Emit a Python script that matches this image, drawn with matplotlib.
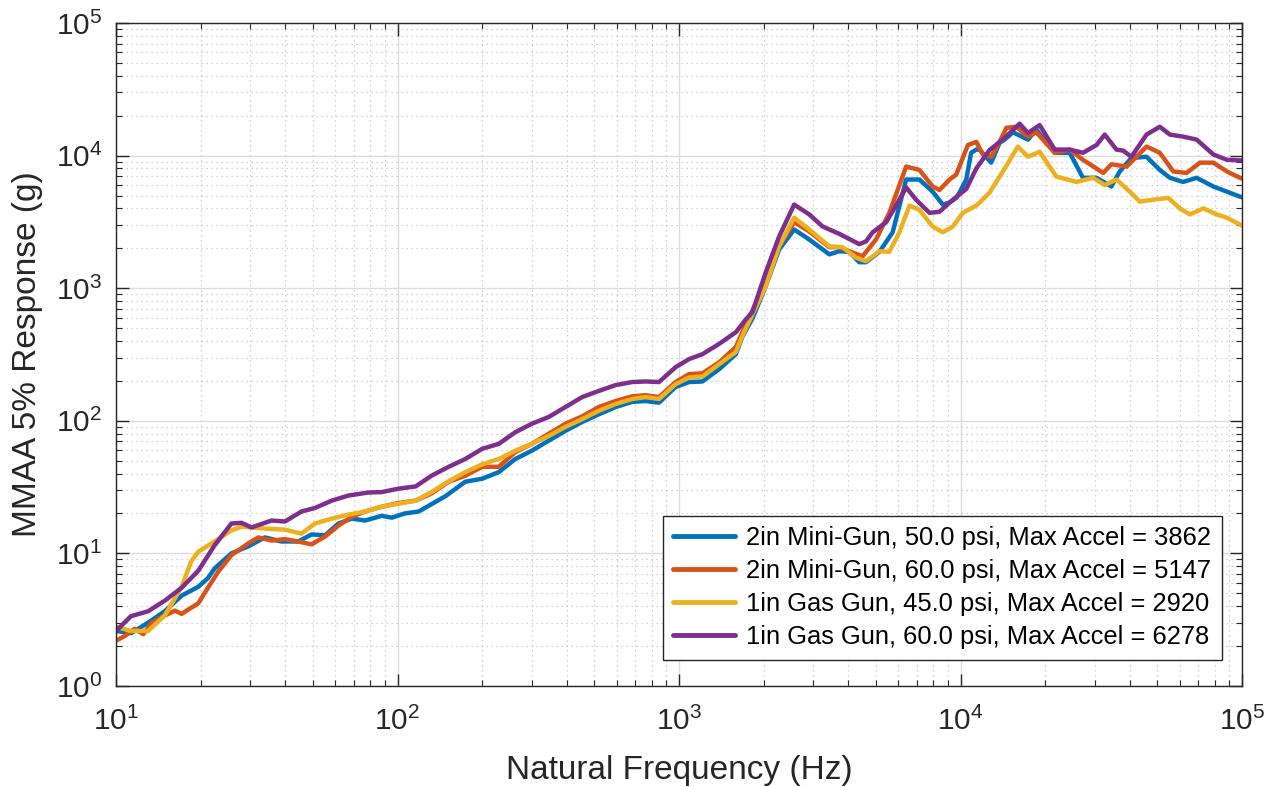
import matplotlib
matplotlib.use("Agg")
import matplotlib.pyplot as plt
from matplotlib.ticker import LogLocator, NullFormatter

plt.rcParams['font.family'] = ['Liberation Sans', 'DejaVu Sans']
plt.rcParams['mathtext.fontset'] = 'custom'
plt.rcParams['mathtext.rm'] = 'Liberation Sans'
plt.rcParams['mathtext.it'] = 'Liberation Sans:italic'
plt.rcParams['mathtext.bf'] = 'Liberation Sans:bold'

# ---------------- data ----------------
labels = [
    "2in Mini-Gun, 50.0 psi, Max Accel = 3862",
    "2in Mini-Gun, 60.0 psi, Max Accel = 5147",
    "1in Gas Gun, 45.0 psi, Max Accel = 2920",
    "1in Gas Gun, 60.0 psi, Max Accel = 6278",
]
colors = ["#0072BD", "#D95319", "#EDB120", "#7E2F8E"]

f_blue = [10, 11.3, 13.0, 14.9, 17.1, 19.6, 21.2, 22.4, 25.7, 29.5, 33.8, 38.7, 44.4,
          49.5, 55.3, 61.7, 68.8, 76.7, 87.9, 95.5, 106, 119, 132, 148, 174, 200, 229,
          262, 300, 345, 395, 453, 519, 596, 682, 761, 849, 973, 1086, 1211, 1388, 1592,
          1679, 1830, 2033, 2268, 2565, 2902, 3420, 3710, 4025, 4368, 4613, 5152, 5741,
          6412, 7145, 7962, 8650, 9140, 9660, 9910, 10480, 10910, 11380, 11690, 12850,
          13770, 14350, 15350, 17370, 18590, 21620, 24430, 27230, 30400, 34350, 36800,
          40470, 45800, 51050, 55460, 61800, 69020, 79070, 88310, 98400, 100000]
v_blue = [2.6, 2.5, 3.0, 3.66, 4.8, 5.6, 6.5, 7.7, 10, 11.3, 13.2, 12.3, 12.3,
          13.9, 13.7, 16.8, 18.3, 17.7, 19.2, 18.6, 20, 20.7, 23.5, 27, 34.7, 36.6, 41,
          51.5, 59.5, 71, 84, 98, 112, 127, 139, 141, 137, 180, 196, 198, 245, 318,
          430, 600, 1035, 1960, 2770, 2330, 1800, 1900, 1880, 1570, 1570, 1880, 2640,
          6600, 6600, 5350, 4270, 4420, 4800, 5250, 6600, 10500, 11100, 11100, 8850,
          12500, 13200, 15000, 13200, 15700, 10500, 10500, 6800, 6800, 5850, 7600,
          9600, 9800, 7800, 6800, 6330, 6800, 5850, 5350, 4900, 4850]

f_orange = [10, 10.7, 11.65, 12.5, 13.4, 14.9, 16.2, 17.1, 19.6, 21.2, 23.1, 25.7, 29.5,
            32, 35.7, 39.8, 44.4, 49.5, 55.3, 61.7, 68.8, 76.7, 87.9, 101, 116, 132, 152,
            174, 200, 229, 262, 300, 345, 395, 453, 519, 596, 682, 761, 849, 973, 1086,
            1211, 1388, 1592, 1679, 2033, 2268, 2565, 2902, 3420, 3710, 4025, 4487, 5012,
            5585, 6412, 7145, 7962, 8414, 9140, 9660, 9910, 10620, 11380, 12000, 12850,
            13770, 14550, 15780, 17370, 18590, 21620, 24430, 27230, 32120, 34350, 38900,
            45800, 51050, 57020, 63530, 70950, 79070, 88310, 98400, 100000]
v_orange = [2.2, 2.37, 2.7, 2.46, 3.0, 3.4, 3.7, 3.5, 4.2, 5.5, 7.3, 9.7, 11.9,
            13.2, 12.5, 12.8, 12.3, 11.7, 13.4, 16.2, 18.9, 20.7, 22.5, 24, 25, 28.3, 34.7,
            38.5, 45, 45, 58, 67, 80, 95, 108, 127, 141, 153, 156, 151, 196, 225,
            228, 276, 360, 466, 1125, 2070, 3150, 2680, 2040, 2040, 1900, 1740, 2330,
            3700, 8260, 7800, 5850, 5500, 6600, 7200, 8260, 12000, 12700, 10200, 9800,
            12700, 16200, 16500, 13900, 15000, 10500, 11100, 9300, 7400, 8600, 8260,
            11700, 10500, 7600, 7400, 8850, 8850, 7600, 6800, 6700]

f_yellow = [10, 11.3, 13.0, 14.9, 17.1, 18.5, 19.6, 22.4, 25.7, 27.9, 33.8, 39.8, 45.6,
            50.9, 58.4, 66.9, 76.7, 87.9, 101, 116, 132, 152, 174, 200, 229, 262, 300,
            345, 395, 453, 519, 596, 682, 761, 849, 973, 1086, 1211, 1388, 1592, 1679,
            2033, 2268, 2565, 2902, 3420, 3810, 4252, 4613, 5152, 5585, 6067, 6590, 7145,
            7962, 8650, 9395, 10190, 11380, 11690, 12680, 13770, 14150, 15990, 17370,
            19100, 21900, 25820, 29580, 32540, 35810, 39920, 43350, 48310, 54700, 60120,
            65310, 72940, 81280, 88310, 98400, 100000]
v_yellow = [2.8, 2.6, 2.6, 3.4, 5.6, 8.7, 10.3, 12.3, 14.9, 15.9, 15.4, 15.1, 14.1,
            16.8, 18.3, 19.6, 20.7, 22.5, 23.7, 25, 29, 35, 41, 47, 51.5, 59.5, 67,
            77, 90, 103, 119, 134, 146, 151, 146, 189, 212, 216, 267, 330, 436,
            1035, 2070, 3400, 2770, 2070, 2040, 1700, 1600, 1900, 1880, 2640, 4200, 3900,
            2920, 2640, 2920, 3700, 4200, 4420, 5250, 6950, 7600, 11700, 9800,
            10700, 6950, 6330, 6800, 6000, 6600, 5350, 4500, 4650, 4800, 4000,
            3600, 4000, 3600, 3400, 3020, 2950]

f_purple = [10, 11.3, 13.0, 14.9, 17.1, 19.6, 22.4, 25.7, 27.9, 30.3, 35.7, 39.8, 45.6,
            50.9, 58.4, 66.9, 78.8, 87.9, 101, 116, 132, 152, 174, 200, 229, 262, 300,
            345, 395, 453, 519, 596, 682, 761, 849, 973, 1086, 1211, 1388, 1592, 1726,
            1824, 2033, 2268, 2565, 2902, 3236, 3710, 4368, 4613, 4875, 5445, 5902, 6412,
            6950, 7762, 8414, 9395, 10480, 11380, 12680, 14350, 16220, 17370, 19100,
            21620, 24430, 27230, 30400, 32540, 35810, 37830, 40470, 45800, 51050, 55460,
            61800, 69020, 79070, 88310, 98400, 100000]
v_purple = [2.6, 3.36, 3.66, 4.4, 5.5, 7.4, 11.5, 16.8, 17, 15.7, 17.7, 17.4, 20.7,
            22, 25, 27.3, 28.8, 29, 30.8, 32, 38.5, 45, 51.5, 61.5, 67, 82, 95,
            107, 127, 151, 168, 186, 196, 198, 196, 254, 292, 318, 380, 466, 580,
            660, 1320, 2450, 4270, 3600, 2920, 2570, 2150, 2250, 2640, 3150, 4200, 5750,
            4650, 3700, 3770, 4650, 5600, 8000, 11000, 13600, 17400, 14800, 17000,
            11100, 11100, 10500, 12000, 14400, 11100, 10900, 9800, 14400, 16500, 14400,
            13900, 13200, 10200, 9300, 9200, 9200]

series_f = [f_blue, f_orange, f_yellow, f_purple]
series_v = [v_blue, v_orange, v_yellow, v_purple]

x_label = "Natural Frequency (Hz)"
y_label = "MMAA 5% Response (g)"

# ---------------- plot ----------------
fig = plt.figure(figsize=(12.68, 7.87), dpi=100)
ax = fig.add_axes([116 / 1268, 1 - 686 / 787, (1242 - 116) / 1268, (686 - 23) / 787])

for f, v, c, lab in zip(series_f, series_v, colors, labels):
    ax.plot(f, v, color=c, lw=3.2, label=lab, solid_joinstyle='round', solid_capstyle='round')

ax.set_xscale('log')
ax.set_yscale('log')
ax.set_xlim(10, 1e5)
ax.set_ylim(1, 1e5)

ax.xaxis.set_major_locator(LogLocator(base=10, numticks=20))
ax.yaxis.set_major_locator(LogLocator(base=10, numticks=20))
ax.xaxis.set_minor_locator(LogLocator(base=10, subs=range(2, 10), numticks=100))
ax.yaxis.set_minor_locator(LogLocator(base=10, subs=range(2, 10), numticks=100))
ax.xaxis.set_minor_formatter(NullFormatter())
ax.yaxis.set_minor_formatter(NullFormatter())

axcol = '#262626'
for s in ax.spines.values():
    s.set_color(axcol)
    s.set_linewidth(1.0)

ax.tick_params(which='both', direction='in', top=True, right=True, colors=axcol,
               labelcolor='#262626')
ax.tick_params(which='major', length=9, width=1.0, labelsize=21.5, pad=10)
ax.tick_params(which='minor', length=4.5, width=0.8)
ax.tick_params(axis='x', which='major', pad=15)

ax.grid(which='major', color='#dcdcdc', linestyle='-', linewidth=1.0)
ax.grid(which='minor', color='#c4c4c4', linestyle=(0, (1, 3)), linewidth=0.9)
ax.set_axisbelow(True)

ax.set_xlabel(x_label, fontsize=24, color='#262626', labelpad=14)
ax.set_ylabel(y_label, fontsize=24, color='#262626', labelpad=9)

leg = ax.legend(loc='lower right', bbox_to_anchor=(1106 / 1126, 26 / 663), fontsize=18.4,
                frameon=True, fancybox=False, framealpha=1.0, edgecolor='#262626',
                handlelength=2.4, handletextpad=0.45, labelspacing=0.35, borderpad=0.42,
                borderaxespad=0.0)
leg.get_frame().set_linewidth(1.0)
for line in leg.get_lines():
    line.set_linewidth(3.5)

fig.savefig("out.png", dpi=100)
